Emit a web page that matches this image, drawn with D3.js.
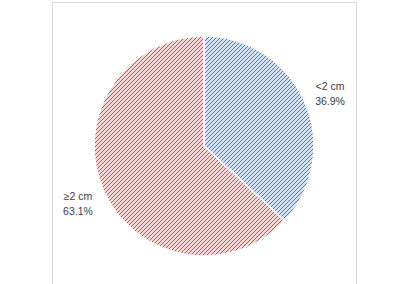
<!DOCTYPE html>
<html><head><meta charset="utf-8">
<script src="https://cdn.jsdelivr.net/npm/d3@7"></script>
<style>body{margin:0;background:#fff}svg{display:block}</style>
</head><body>
<svg id="c" width="409" height="284"></svg>
<script>
const categories = ["<2 cm", "≥2 cm"];
const values = [36.9, 63.1];
const valueLabels = ["36.9%", "63.1%"];
const colors = ["#3f70d0", "#cc4446"];
const tints = ["#d6e2f7", "#f7d8d8"];

const svg = d3.select("#c");
const defs = svg.append("defs");
colors.forEach((c, i) => {
  const p = defs.append("pattern").attr("id", "p" + i)
    .attr("patternUnits", "userSpaceOnUse").attr("width", 4).attr("height", 4);
  p.append("rect").attr("width", 4).attr("height", 4).attr("fill", tints[i]);
  p.append("path").attr("d", "M-1,1 L1,-1 M0,4 L4,0 M3,5 L5,3")
    .attr("stroke", c).attr("stroke-width", 0.95);
});

// frame
svg.append("rect").attr("x", 52.5).attr("y", 2.5).attr("width", 304).attr("height", 290)
  .attr("fill", "none").attr("stroke", "#d9d9d9").attr("stroke-width", 1);

const cx = 204, cy = 146, r = 110;
const pie = d3.pie().sort(null).value(d => d);
const arcs = pie(values);
const arc = d3.arc().innerRadius(0).outerRadius(r);
const g = svg.append("g").attr("transform", `translate(${cx},${cy})`);
g.selectAll("path").data(arcs).join("path")
  .attr("d", arc).attr("fill", (d, i) => `url(#p${i})`)
  .attr("stroke", "#fff").attr("stroke-width", 1.5);

const labelArc = d3.arc().innerRadius(r * 1.25).outerRadius(r * 1.25);
const lab = g.selectAll("text.l").data(arcs).join("text").attr("class", "l")
  .attr("text-anchor", "middle")
  .attr("font-family", "Liberation Sans, Arial, sans-serif")
  .attr("font-size", 10.5).attr("fill", "#404040")
  .attr("transform", (d, i) => {
    const [x, y] = labelArc.centroid(d);
    return `translate(${x},${y + 1.5})`;
  });
lab.append("tspan").attr("x", 0).attr("dy", "-0.25em").text((d, i) => categories[i]);
lab.append("tspan").attr("x", 0).attr("dy", "1.4em").text((d, i) => valueLabels[i]);
</script>
</body></html>
